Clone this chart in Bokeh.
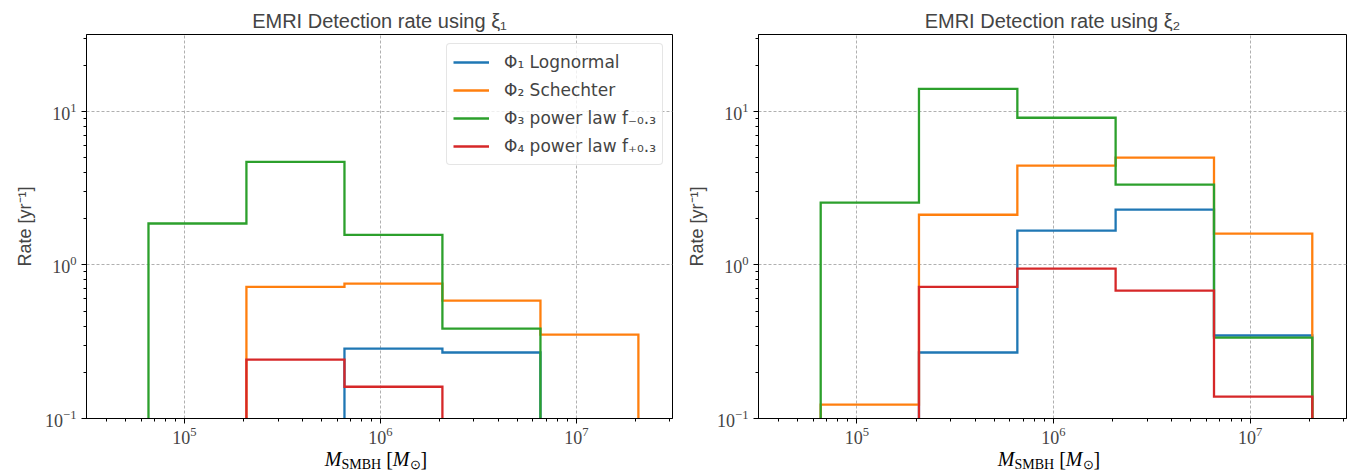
import numpy as np
from bokeh.plotting import figure
from bokeh.models import Legend, LegendItem, Range1d, Div
from bokeh.layouts import row, column
from bokeh.embed import file_html
from bokeh.resources import INLINE

# ---------------- data ----------------
bin_edges = [6.55e4, 2.07e5, 6.55e5, 2.07e6, 6.55e6, 2.07e7]

series_labels = [
    "Φ₁ Lognormal",
    "Φ₂ Schechter",
    "Φ₃ power law f₋₀.₃",
    "Φ₄ power law f₊₀.₃",
]
series_colors = ["#1f77b4", "#ff7f0e", "#2ca02c", "#d62728"]

# rates (yr^-1) per bin, detection with xi_1
xi1_lognormal = [0.0, 0.0, 0.285, 0.269, 0.0]
xi1_schechter = [0.0, 0.72, 0.755, 0.586, 0.352]
xi1_powm03 = [1.86, 4.68, 1.57, 0.385, 0.0]
xi1_powp03 = [0.0, 0.242, 0.161, 0.0, 0.0]

# rates (yr^-1) per bin, detection with xi_2
xi2_lognormal = [0.0, 0.269, 1.67, 2.29, 0.347]
xi2_schechter = [0.123, 2.12, 4.43, 4.99, 1.60]
xi2_powm03 = [2.54, 14.0, 9.08, 3.33, 0.336]
xi2_powp03 = [0.0, 0.72, 0.946, 0.68, 0.139]

titles = ["EMRI Detection rate using ξ₁", "EMRI Detection rate using ξ₂"]
x_label_html = ("<i>M</i><span style='font-size:14px;position:relative;top:3px'>SMBH</span>"
                " [<i>M</i><span style='font-size:13px;position:relative;top:3px'>⊙</span>]")
y_label = "Rate [yr⁻¹]"

# ---------------- helpers ----------------
FLOOR = 1e-4
FIG_H = 448
TOP = 34
FRAME_H = 384
DIV_H = 470 - FIG_H


def step_xy(edges, vals):
    xs = [edges[0]]
    ys = [FLOOR]
    for i, v in enumerate(vals):
        v = v if v > 0 else FLOOR
        xs += [edges[i], edges[i + 1]]
        ys += [v, v]
    xs.append(edges[-1])
    ys.append(FLOOR)
    return xs, ys


def make_fig(title, all_vals, legend, width, bl, br):
    p = figure(width=width, height=FIG_H, x_axis_type="log", y_axis_type="log",
               x_range=Range1d(10 ** 4.5, 10 ** 7.49),
               y_range=Range1d(0.1, 10 ** 1.5),
               output_backend="svg", toolbar_location=None,
               min_border_left=bl, min_border_right=br,
               min_border_top=TOP, min_border_bottom=FIG_H - TOP - FRAME_H)
    p.title.text = title
    p.title.align = "center"
    p.title.text_font = "Liberation Sans"
    p.title.text_font_size = "20px"
    p.title.text_font_style = "normal"
    p.title.standoff = 6
    p.title.offset = 0

    p.outline_line_color = "black"
    p.outline_line_alpha = 1
    p.outline_line_width = 1
    p.background_fill_color = "white"
    p.border_fill_color = "white"

    p.grid.grid_line_color = "#b0b0b0"
    p.grid.grid_line_dash = "3 2"
    p.grid.grid_line_width = 1

    for ax in (p.xaxis, p.yaxis):
        ax.axis_line_color = "black"
        ax.major_tick_line_color = "black"
        ax.minor_tick_line_color = "black"
        ax.major_tick_in = 0
        ax.major_tick_out = 5
        ax.minor_tick_in = 0
        ax.minor_tick_out = 3
        ax.major_label_text_font = "Liberation Serif"
        ax.major_label_text_font_size = "18px"
    p.xaxis.major_label_standoff = 3
    p.yaxis.major_label_standoff = 5

    p.yaxis.axis_label = y_label
    p.yaxis.axis_label_text_font = "Liberation Sans"
    p.yaxis.axis_label_text_font_size = "18px"
    p.yaxis.axis_label_text_font_style = "normal"
    p.yaxis.axis_label_standoff = 7

    renderers = []
    for vals, color in zip(all_vals, series_colors):
        xs, ys = step_xy(bin_edges, vals)
        r = p.line(xs, ys, line_color=color, line_width=2.3, line_join="miter")
        renderers.append(r)

    if legend:
        items = [LegendItem(label=lab, renderers=[r]) for lab, r in zip(series_labels, renderers)]
        lg = Legend(items=items, location="top_right")
        lg.margin = 9
        lg.padding = 6
        lg.spacing = 4
        lg.label_height = 24
        lg.glyph_height = 24
        lg.glyph_width = 36
        lg.label_standoff = 15
        lg.label_text_font = "DejaVu Sans"
        lg.label_text_font_size = "17px"
        lg.border_line_color = "#cccccc"
        lg.border_line_width = 1
        lg.background_fill_color = "white"
        lg.background_fill_alpha = 0.8
        if "border_radius" in Legend.properties():
            lg.border_radius = 4
        p.add_layout(lg)
    return p


def make_xlabel(width, frame_left, frame_w):
    html = (f"<div style=\"width:{frame_w}px;margin-left:{frame_left - 3}px;margin-top:3px;"
            f"text-align:center;font-family:'Liberation Serif';font-size:20px;line-height:17px;"
            f"color:black;white-space:nowrap;\">{x_label_html}</div>")
    return Div(text=html, width=width, height=DIV_H, margin=(0, 0, 0, 0),
               styles={"overflow": "visible"})


p1 = make_fig(titles[0], [xi1_lognormal, xi1_schechter, xi1_powm03, xi1_powp03], True, 673, 86, 1)
p2 = make_fig(titles[1], [xi2_lognormal, xi2_schechter, xi2_powm03, xi2_powp03], False, 680, 85, 7)

d1 = make_xlabel(673, 86, 586)
d2 = make_xlabel(680, 85, 588)

layout = row(column(p1, d1), column(p2, d2))
open("out.html", "w").write(file_html(layout, INLINE))
